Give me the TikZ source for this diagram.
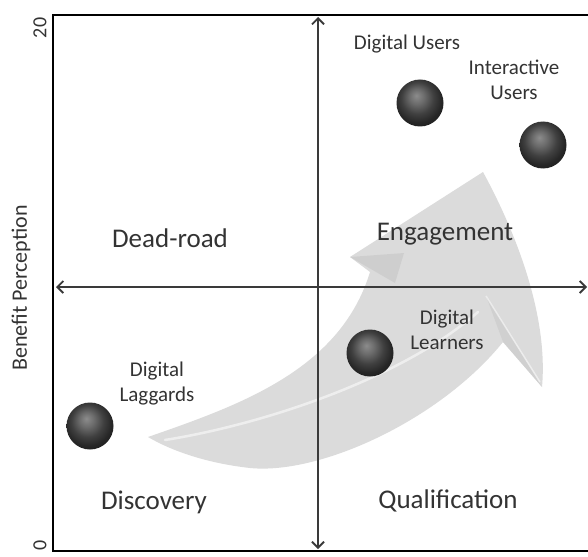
\documentclass[tikz,border=0pt]{standalone}
\usepackage{fontspec}
\setmainfont{Carlito}
\usepackage{xcolor}
\usepackage{tikz}
\usetikzlibrary{positioning, arrows.meta}
\definecolor{textgray}{HTML}{333333}
\definecolor{axisgray}{HTML}{3A3A3A}
\definecolor{arrowgray}{HTML}{D7D7D7}
\definecolor{foldgray}{HTML}{CACACA}

% dark, matt sphere
\pgfdeclareradialshading{darkball}{\pgfpoint{-4bp}{8bp}}{%
  color(0bp)=(black!45); color(8bp)=(black!58); color(17bp)=(black!75);
  color(25bp)=(black!85); color(50bp)=(black)}

\tikzset{
  quadrant/.style={text=textgray, font=\fontsize{27}{30}\selectfont},
  segment/.style={text=textgray, font=\fontsize{21}{25}\selectfont, align=center},
  sphere/.style={circle, minimum size=47pt, inner sep=0pt, shade, shading=darkball},
  axis/.style={draw=axisgray, line width=1.8pt,
    {Straight Barb[length=6pt,width=12pt]}-{Straight Barb[length=6pt,width=12pt]}},
}

\begin{document}
\begin{tikzpicture}[x=1pt, y=-1pt]
  \useasboundingbox (0,0) rectangle (588,556);

  % big curved arrow in the background
  \fill[arrowgray, opacity=.9] (148,437)
    .. controls (240,405) and (340,370) .. (370,272)
    -- (350,257) -- (483,172)
    .. controls (520,240) and (548,320) .. (542,387)
    -- (503,342)
    .. controls (440,420) and (320,475) .. (250,468)
    .. controls (205,463) and (170,450) .. (148,437) -- cycle;
  \fill[foldgray, opacity=.7] (350,257) -- (404,253) -- (395,283) -- cycle;
  \fill[foldgray, opacity=.6] (486,296) -- (542,387) -- (503,342) -- cycle;
  \draw[white, opacity=.5, line width=1.5pt] (486,296) -- (540,382);
  \draw[white, opacity=.55, line width=2.5pt, line cap=round]
    (165,440) .. controls (260,425) and (400,380) .. (478,312);

  % frame
  \coordinate (topright) at (588,15);
  \coordinate (origin) at (53,551);
  \coordinate (botright) at (588,551);
  \draw[line width=2.6pt] (topright) -| (origin) -- (botright);

  % axes
  \coordinate (ytop) at (318,17);
  \coordinate (ybot) at (318,549);
  \coordinate (xleft) at (56,287);
  \coordinate (xright) at (587,287);
  \draw[axis] (ybot) -- (ytop);
  \draw[axis] (xleft) -- (xright);

  \node[text=textgray, font=\fontsize{20}{22}\selectfont, rotate=90] (ymax) at (40,28) {20};
  \node[text=textgray, font=\fontsize{20}{22}\selectfont, rotate=90] (ymin) at (40,545) {0};
  \node[segment, font=\fontsize{22}{25}\selectfont, rotate=90] (ylabel) at (21,288) {Benefit Perception};

  % quadrants
  \node[quadrant] (deadroad) at (170,238) {Dead-road};
  \node[quadrant] (engagement) at (445,234) {Engagement};
  \node[quadrant] (discovery) at (154,502) {Discovery};
  \node[quadrant] (qualification) at (448,501) {Qualification};

  % user segments
  \node[sphere] (users) at (420,103) {};
  \node[sphere] (interactive) at (543,145) {};
  \node[sphere] (learners) at (370,353) {};
  \node[sphere] (laggards) at (90,426) {};

  \node[segment] (userslabel) at (407,44) {Digital Users};
  \node[segment] (interactivelabel) at (514,80) {Interactive\\Users};
  \node[segment] (learnerslabel) at (447,330) {Digital\\Learners};
  \node[segment] (laggardslabel) at (157,384) {Digital\\Laggards};
\end{tikzpicture}
\end{document}
